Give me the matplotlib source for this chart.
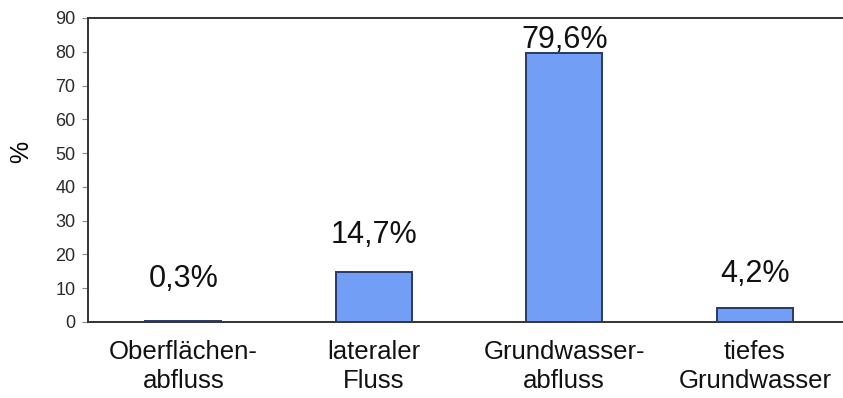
import matplotlib
matplotlib.use("Agg")
import matplotlib.pyplot as plt

categories = ["Oberflächen-\nabfluss", "lateraler\nFluss", "Grundwasser-\nabfluss", "tiefes\nGrundwasser"]
values = [0.3, 14.7, 79.6, 4.2]
value_labels = ["0,3%", "14,7%", "79,6%", "4,2%"]
yticks = [0, 10, 20, 30, 40, 50, 60, 70, 80, 90]

plt.rcParams["font.family"] = ["Liberation Sans", "DejaVu Sans"]

W, H = 843, 398
fig = plt.figure(figsize=(W / 100, H / 100), dpi=100)
# axes box in pixels: left 88, right ~850 (runs past the figure edge), top 18, bottom 322
left, right, top, bottom = 88, 850, 18, 322
ax = fig.add_axes([left / W, 1 - bottom / H, (right - left) / W, (bottom - top) / H])

x = list(range(len(values)))
ax.bar(x, values, width=0.40, color="#729ef6", edgecolor="#2a3966", linewidth=1.4, zorder=3)

# value labels placed above each bar (baseline in data units)
label_offsets = [10.1, 8.6, 1.5, 7.6]
for xi, v, lab, off in zip(x, values, value_labels, label_offsets):
    ax.text(xi, v + off, lab, ha="center", va="baseline", fontsize=22, color="#111111")

ax.set_xlim(-0.5, 3.5)
ax.set_ylim(0, 90)
ax.set_yticks(yticks)
ax.set_yticklabels([str(t) for t in yticks], fontsize=13, color="#2a2a2a")
ax.set_xticks(x)
ax.set_xticklabels(categories, fontsize=18.5, linespacing=1.28, color="#111111")
ax.tick_params(axis="x", length=0, pad=13)
ax.tick_params(axis="y", length=4, width=0.8, color="#888888", pad=5)

for s in ["left", "bottom", "top"]:
    ax.spines[s].set_color("#333333")
    ax.spines[s].set_linewidth(1.4)
ax.spines["right"].set_visible(False)

ax.set_ylabel("%", fontsize=18)
ax.yaxis.set_label_coords(-0.072, 0.56)

fig.savefig("out.png", dpi=100)
